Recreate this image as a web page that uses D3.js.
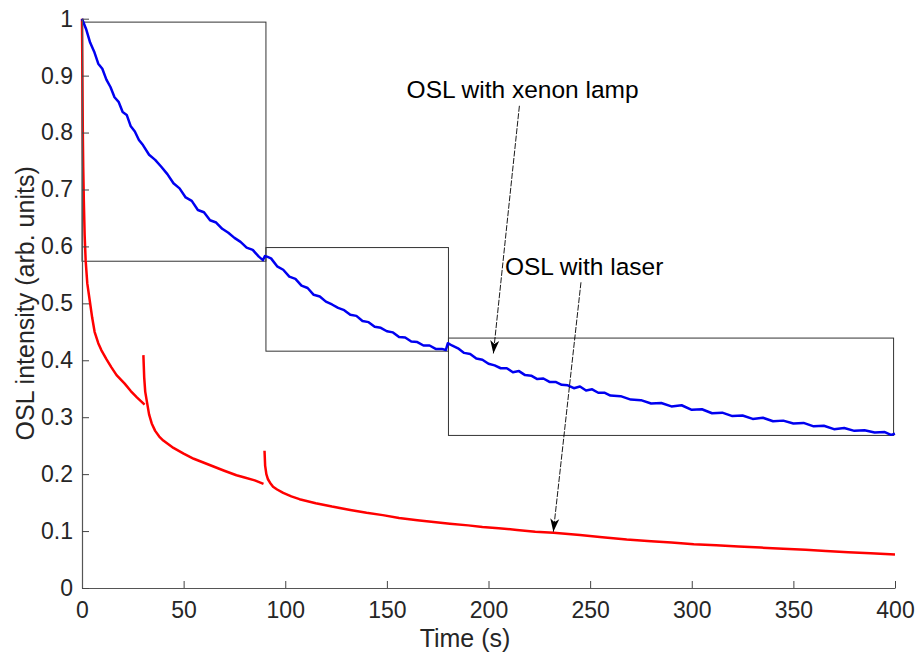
<!DOCTYPE html>
<html>
<head>
<meta charset="utf-8">
<script src="https://cdn.jsdelivr.net/npm/d3@7"></script>
<style>
  body { margin: 0; background: #fff; }
  svg { display: block; font-family: "Liberation Sans", Arial, sans-serif; }
</style>
</head>
<body>
<figure id="oslChart" style="margin:0"></figure>
<script>
// time axis ticks and intensity ticks
const xTicks = [0, 50, 100, 150, 200, 250, 300, 350, 400];
const yTicks = [0, 0.1, 0.2, 0.3, 0.4, 0.5, 0.6, 0.7, 0.8, 0.9, 1];

// OSL with xenon lamp (blue)
const lampTime = [0, 2, 4, 6, 8, 10, 12, 14, 16, 18, 20, 22, 24, 26, 28, 30, 33, 36, 39, 42, 45, 48, 51, 54, 57, 60,
  63, 66, 69, 72, 75, 78, 81, 84, 87, 89, 90, 91, 93, 96, 99, 102, 105, 108, 111, 114, 117, 120, 123, 126, 129,
  132, 135, 138, 141, 144, 147, 150, 153, 156, 159, 162, 165, 168, 171, 174, 177, 179, 180, 182, 185, 188, 191,
  194, 197, 200, 203, 206, 209, 212, 215, 218, 221, 224, 227, 230, 233, 236, 239, 242, 245, 248, 251, 254, 257,
  260, 265, 270, 275, 280, 285, 290, 295, 300, 305, 310, 315, 320, 325, 330, 335, 340, 345, 350, 355, 360, 365,
  370, 375, 380, 385, 390, 395, 398, 400];
const lampSignal = [1.000, 0.982, 0.958, 0.942, 0.921, 0.912, 0.893, 0.880, 0.862, 0.854, 0.836, 0.831, 0.811, 0.802,
  0.787, 0.778, 0.761, 0.752, 0.740, 0.727, 0.711, 0.702, 0.686, 0.680, 0.664, 0.660, 0.646, 0.642, 0.631, 0.624,
  0.615, 0.608, 0.598, 0.594, 0.582, 0.576, 0.583, 0.582, 0.579, 0.565, 0.559, 0.547, 0.543, 0.531, 0.527, 0.515,
  0.512, 0.503, 0.498, 0.492, 0.488, 0.480, 0.478, 0.469, 0.467, 0.459, 0.457, 0.451, 0.449, 0.441, 0.440, 0.433,
  0.432, 0.426, 0.426, 0.420, 0.420, 0.418, 0.430, 0.426, 0.421, 0.413, 0.411, 0.403, 0.401, 0.394, 0.391, 0.386,
  0.386, 0.379, 0.381, 0.374, 0.373, 0.367, 0.368, 0.362, 0.362, 0.357, 0.356, 0.351, 0.354, 0.347, 0.349, 0.343,
  0.343, 0.338, 0.337, 0.331, 0.330, 0.324, 0.325, 0.319, 0.321, 0.313, 0.314, 0.307, 0.308, 0.302, 0.303, 0.297,
  0.299, 0.293, 0.294, 0.289, 0.290, 0.284, 0.285, 0.279, 0.281, 0.276, 0.277, 0.273, 0.274, 0.269, 0.271];

// OSL with laser (red), three stimulation periods
const laserTime1 = [0, 0.2, 0.4, 0.6, 0.9, 1.3, 1.8, 2.6, 3.8, 5, 6.2, 8, 9.5, 12, 14.4, 17, 21, 24, 27, 30.8];
const laserSignal1 = [1.000, 0.900, 0.800, 0.740, 0.680, 0.620, 0.575, 0.535, 0.505, 0.475, 0.450, 0.430, 0.418,
  0.402, 0.388, 0.374, 0.359, 0.346, 0.335, 0.322];
const laserTime2 = [30.2, 30.6, 31.1, 31.8, 33, 34.3, 36, 38, 40, 45, 50, 55, 60, 65, 70, 76, 80, 85, 89.3];
const laserSignal2 = [0.409, 0.370, 0.345, 0.330, 0.305, 0.289, 0.276, 0.266, 0.259, 0.246, 0.236, 0.227, 0.220,
  0.213, 0.206, 0.198, 0.194, 0.189, 0.183];
const laserTime3 = [89.8, 90.1, 90.7, 91.5, 92.5, 94, 96, 99, 103, 107, 115, 123, 132, 140, 148, 156, 165, 173,
  181, 190, 197, 205, 214, 223, 232, 245, 256, 268, 280, 290, 301, 312, 323, 334, 345, 356, 366, 377, 388, 400];
const laserSignal3 = [0.241, 0.215, 0.200, 0.191, 0.185, 0.178, 0.173, 0.167, 0.161, 0.156, 0.149, 0.143, 0.137,
  0.132, 0.128, 0.123, 0.119, 0.116, 0.113, 0.110, 0.107, 0.105, 0.102, 0.099, 0.097, 0.093, 0.089, 0.085, 0.082,
  0.080, 0.077, 0.075, 0.073, 0.071, 0.069, 0.067, 0.065, 0.063, 0.061, 0.059];

// boxes around the three lamp stimulation windows: [t0, t1, low, high]
const boxes = [[0, 90.5, 0.574, 0.994], [90.5, 180.3, 0.416, 0.598], [180.3, 399.3, 0.268, 0.439]];

const width = 916;
const height = 655;
const margin = { top: 18.7, right: 21, bottom: 67, left: 82 };

const svg = d3.select('figure#oslChart')
  .append('svg')
  .attr('width', width)
  .attr('height', height);

const x = d3.scaleLinear().domain([0, 400]).range([margin.left, width - margin.right]);
const y = d3.scaleLinear().domain([0, 1]).range([height - margin.bottom, margin.top]);

svg.append('defs').append('marker')
  .attr('id', 'head')
  .attr('markerUnits', 'userSpaceOnUse')
  .attr('viewBox', '-14 -6 16 12')
  .attr('markerWidth', 16)
  .attr('markerHeight', 12)
  .attr('refX', 0)
  .attr('refY', 0)
  .attr('orient', 'auto')
  .append('path')
  .attr('d', 'M0,0L-13,-4.5L-9.5,0L-13,4.5Z')
  .attr('fill', '#000');

// boxes
svg.append('g')
  .selectAll('rect')
  .data(boxes)
  .enter()
  .append('rect')
  .attr('x', d => x(d[0]))
  .attr('y', d => y(d[3]))
  .attr('width', d => x(d[1]) - x(d[0]))
  .attr('height', d => y(d[2]) - y(d[3]))
  .attr('fill', 'none')
  .attr('stroke', '#333')
  .attr('stroke-width', 1);

// curves
const line = d3.line().x(d => x(d[0])).y(d => y(d[1]));
const zip = (a, b) => a.map((t, i) => [t, b[i]]);

const laserRuns = [zip(laserTime1, laserSignal1), zip(laserTime2, laserSignal2), zip(laserTime3, laserSignal3)];
svg.append('g')
  .selectAll('path')
  .data(laserRuns)
  .enter()
  .append('path')
  .attr('d', line)
  .attr('fill', 'none')
  .attr('stroke', '#f00')
  .attr('stroke-width', 2.5)
  .attr('stroke-linejoin', 'round');

svg.append('path')
  .attr('d', line(zip(lampTime, lampSignal)))
  .attr('fill', 'none')
  .attr('stroke', '#0000f0')
  .attr('stroke-width', 2.5)
  .attr('stroke-linejoin', 'round');

// axes
const xAxis = svg.append('g')
  .attr('transform', 'translate(0,' + (height - margin.bottom) + ')')
  .call(d3.axisBottom(x).tickValues(xTicks).tickSizeInner(-7).tickSizeOuter(0).tickPadding(14).tickFormat(d3.format('d')));

const yAxis = svg.append('g')
  .attr('transform', 'translate(' + margin.left + ',0)')
  .call(d3.axisLeft(y).tickValues(yTicks).tickSizeInner(-7).tickSizeOuter(0).tickPadding(9).tickFormat(d3.format('~g')));

[xAxis, yAxis].forEach(g => {
  g.select('.domain').attr('stroke', '#555').attr('stroke-width', 1.2);
  g.selectAll('.tick line').attr('stroke', '#444');
  g.selectAll('.tick text').attr('fill', '#262626').style('font-size', '23px').style('font-family', '"Liberation Sans", Arial, sans-serif');
});

svg.append('text')
  .attr('x', 465)
  .attr('y', 647)
  .attr('text-anchor', 'middle')
  .attr('fill', '#262626')
  .style('font-size', '25px')
  .text('Time (s)');

svg.append('text')
  .attr('transform', 'translate(34,' + (y(0.5)) + ') rotate(-90)')
  .attr('text-anchor', 'middle')
  .attr('fill', '#262626')
  .style('font-size', '25px')
  .text('OSL intensity (arb. units)');

// annotations with arrows
const notes = [
  { label: 'OSL with xenon lamp', tx: 159.7, ty: 0.86, from: [215.2, 0.847], to: [202.4, 0.412] },
  { label: 'OSL with laser', tx: 208.1, ty: 0.549, from: [245.5, 0.537], to: [231.9, 0.0988] }
];

notes.forEach(n => {
  svg.append('text')
    .attr('x', x(n.tx))
    .attr('y', y(n.ty))
    .attr('fill', '#000')
    .style('font-size', '24.5px')
    .text(n.label);
  svg.append('line')
    .attr('x1', x(n.from[0]))
    .attr('y1', y(n.from[1]))
    .attr('x2', x(n.to[0]))
    .attr('y2', y(n.to[1]))
    .attr('stroke', '#000')
    .attr('stroke-width', 0.9)
    .attr('stroke-dasharray', '6,1.5')
    .attr('marker-end', 'url(#head)');
});
</script>
</body>
</html>
